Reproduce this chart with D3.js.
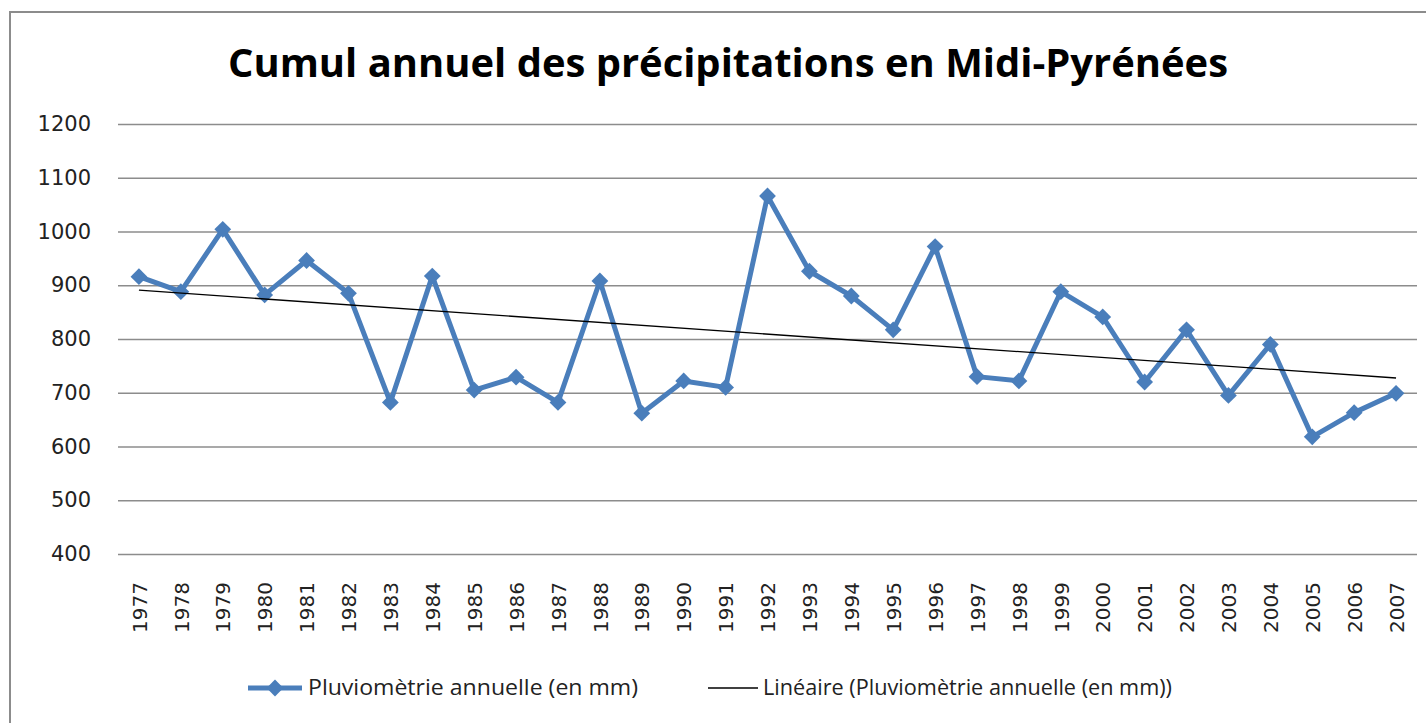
<!DOCTYPE html>
<html>
<head>
<meta charset="utf-8">
<script src="https://cdn.jsdelivr.net/npm/d3@7"></script>
<style>
  body { margin: 0; background: #fff; }
  svg { display: block; }
</style>
</head>
<body>
<div id="chart"></div>
<script>
// data
var years = ["1977","1978","1979","1980","1981","1982","1983","1984","1985","1986",
             "1987","1988","1989","1990","1991","1992","1993","1994","1995","1996",
             "1997","1998","1999","2000","2001","2002","2003","2004","2005","2006","2007"];
var rainfall = [916, 888, 1004, 882, 946, 885, 682, 917, 705, 729,
                682, 908, 662, 722, 710, 1066, 926, 880, 817, 972,
                730, 722, 888, 841, 720, 817, 695, 790, 618, 663, 699];
var yTicks = [400, 500, 600, 700, 800, 900, 1000, 1100, 1200];
var title = "Cumul annuel des précipitations en Midi-Pyrénées";
var seriesName = "Pluviomètrie annuelle (en mm)";
var trendName = "Linéaire (Pluviomètrie annuelle (en mm))";

var W = 1426, H = 723;
var margin = { top: 124, right: 9, bottom: 169, left: 118 };
var width = W - margin.left - margin.right,
    height = H - margin.top - margin.bottom;
var blue = "#4a7ebb";

var svg = d3.select("#chart").append("svg")
    .attr("width", W)
    .attr("height", H);

// outer frame
svg.append("rect")
    .attr("x", 10).attr("y", 12)
    .attr("width", W + 20).attr("height", H + 20)
    .attr("fill", "none")
    .attr("stroke", "#8c8c8c")
    .attr("stroke-width", 2);

// title
svg.append("text")
    .attr("x", 228).attr("y", 77)
    .attr("textLength", 1000)
    .attr("lengthAdjust", "spacingAndGlyphs")
    .style("font-family", "'Open Sans', sans-serif")
    .style("font-weight", "bold")
    .style("font-size", "39px")
    .attr("fill", "#000")
    .text(title);

var g = svg.append("g")
    .attr("transform", "translate(" + margin.left + "," + margin.top + ")");

// scales
var x = d3.scalePoint()
    .domain(years)
    .range([0, width])
    .padding(0.5);

var y = d3.scaleLinear()
    .domain([400, 1200])
    .range([height, 0]);

// y axis with gridlines
var yAxis = d3.axisLeft(y)
    .tickValues(yTicks)
    .tickSize(-width)
    .tickPadding(27)
    .tickFormat(d3.format("d"));

var yg = g.append("g").attr("class", "y-axis").call(yAxis);
yg.select(".domain").remove();
yg.selectAll(".tick line")
    .attr("stroke", "#8c8c8c")
    .attr("stroke-width", 1.6);
yg.selectAll(".tick text")
    .style("font-family", "'DejaVu Sans', sans-serif")
    .style("font-size", "21px")
    .attr("fill", "#222");

// x axis, vertical labels
var xAxis = d3.axisBottom(x).tickSize(0);
var xg = g.append("g")
    .attr("class", "x-axis")
    .attr("transform", "translate(0," + height + ")")
    .call(xAxis);
xg.select(".domain").remove();
xg.selectAll(".tick text")
    .attr("transform", "rotate(-90)")
    .attr("x", -28)
    .attr("y", 0)
    .attr("dy", "0.36em")
    .style("text-anchor", "end")
    .style("font-family", "'DejaVu Sans', sans-serif")
    .style("font-size", "20px")
    .attr("fill", "#222");

// linear trend (least squares on the series)
var n = rainfall.length;
var mx = d3.mean(d3.range(n)), my = d3.mean(rainfall);
var sxy = d3.sum(d3.range(n), function(i) { return (i - mx) * (rainfall[i] - my); });
var sxx = d3.sum(d3.range(n), function(i) { return (i - mx) * (i - mx); });
var slope = sxy / sxx, intercept = my - slope * mx;
var trend = years.map(function(yr, i) { return { year: yr, value: intercept + slope * i }; });

var series = years.map(function(yr, i) { return { year: yr, value: rainfall[i] }; });

var line = d3.line()
    .x(function(d) { return x(d.year); })
    .y(function(d) { return y(d.value); });

g.append("path")
    .datum(series)
    .attr("fill", "none")
    .attr("stroke", blue)
    .attr("stroke-width", 5)
    .attr("stroke-linejoin", "round")
    .attr("d", line);

var diamond = d3.symbol().type(d3.symbolDiamond2).size(180);
g.selectAll(".marker")
    .data(series)
    .enter().append("path")
    .attr("class", "marker")
    .attr("transform", function(d) { return "translate(" + x(d.year) + "," + y(d.value) + ")"; })
    .attr("d", diamond)
    .attr("fill", blue);

g.append("path")
    .datum([trend[0], trend[n - 1]])
    .attr("fill", "none")
    .attr("stroke", "#000")
    .attr("stroke-width", 1.3)
    .attr("d", line);

// legend
var leg = svg.append("g").attr("transform", "translate(0,688)");
leg.append("line")
    .attr("x1", 248).attr("x2", 302)
    .attr("stroke", blue).attr("stroke-width", 5);
leg.append("path")
    .attr("transform", "translate(275,0)")
    .attr("d", diamond)
    .attr("fill", blue);
leg.append("text")
    .attr("x", 308).attr("y", 0).attr("dy", "0.35em")
    .attr("textLength", 330)
    .attr("lengthAdjust", "spacingAndGlyphs")
    .style("font-family", "'Open Sans', sans-serif")
    .style("font-size", "21px")
    .attr("fill", "#222")
    .text(seriesName);

leg.append("line")
    .attr("x1", 708).attr("x2", 758)
    .attr("stroke", "#000").attr("stroke-width", 1.5);
leg.append("text")
    .attr("x", 763).attr("y", 0).attr("dy", "0.35em")
    .attr("textLength", 409)
    .attr("lengthAdjust", "spacingAndGlyphs")
    .style("font-family", "'Open Sans', sans-serif")
    .style("font-size", "21px")
    .attr("fill", "#222")
    .text(trendName);
</script>
</body>
</html>
